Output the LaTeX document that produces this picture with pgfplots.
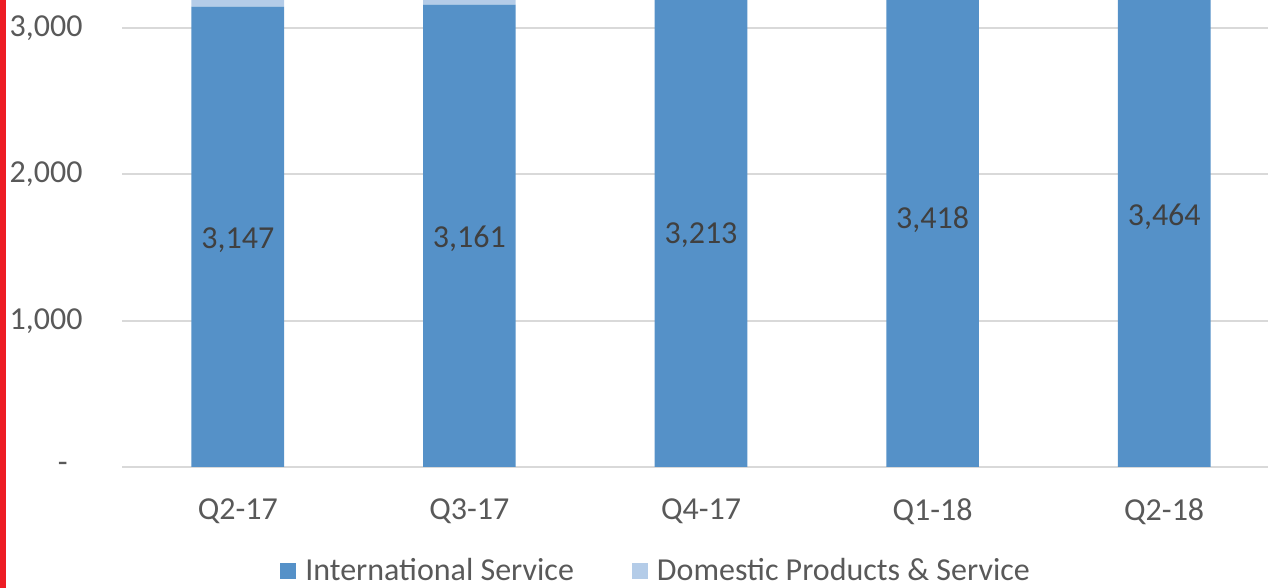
\documentclass[border=0pt]{standalone}
\usepackage{pgfplots}
\pgfplotsset{compat=1.18}
\usepackage{fontspec}
\setmainfont{Carlito}
\definecolor{intl}{HTML}{5591C8}
\definecolor{dom}{HTML}{B4CCE8}
\definecolor{txt}{HTML}{595959}
\definecolor{lab}{HTML}{404040}
\definecolor{grd}{HTML}{D9D9D9}
\definecolor{redl}{HTML}{ED1C24}
\newcommand{\fs}{\fontsize{16}{19}\selectfont}
\begin{document}
\begin{tikzpicture}
\useasboundingbox (0,0) rectangle (634pt,294pt);
\begin{scope}
\clip (0,0) rectangle (634pt,294pt);
\begin{axis}[
  at={(61pt,60.5pt)}, anchor=south west,
  scale only axis, width=579pt, height=233.5pt,
  ybar stacked, bar width=0.4,
  xmin=-0.5, xmax=4.5, ymin=0, ymax=3192,
  xtick={0,1,2,3,4}, xticklabels={Q2-17,Q3-17,Q4-17,Q1-18,Q2-18},
  ytick={0,1000,2000,3000},
  yticklabels={{-\rule{7.5pt}{0pt}},{1,000},{2,000},{3,000}},
  ymajorgrids, grid style={grd, line width=1pt},
  axis x line*=bottom, axis y line*=left,
  x axis line style={grd, line width=1pt, -},
  y axis line style={draw=none, -},
  major tick length=0pt,
  tick label style={font=\fs, text=txt, inner sep=0pt},
  xticklabel style={anchor=north, yshift=-15.5pt},
  yticklabel style={anchor=east, xshift=-19.5pt},
  legend style={at={(0.1364,-0.2227)}, anchor=west, draw=none, fill=none,
    inner sep=0pt, font=\fs, text=txt, column sep=4.5pt,
    nodes={inner sep=0pt}},
  legend columns=-1,
  legend image code/.code={\fill[#1] (0pt,-4pt) rectangle (8pt,4pt);},
]
\addplot[fill=intl, draw=none] coordinates {(0,3147) (1,3161) (2,3213) (3,3418) (4,3464)};
\addlegendentry{International Service\rule{24.5pt}{0pt}}
\addplot[fill=dom, draw=none] coordinates {(0,60) (1,55) (2,50) (3,45) (4,40)};
\addlegendentry{Domestic Products \& Service}
\coordinate (l0) at (axis cs:0,1573.5);
\coordinate (l1) at (axis cs:1,1580.5);
\coordinate (l2) at (axis cs:2,1606.5);
\coordinate (l3) at (axis cs:3,1709);
\coordinate (l4) at (axis cs:4,1732);
\end{axis}
\begin{scope}[every node/.style={font=\fs, text=lab, yshift=-1.5pt}]
\node at (l0) {3,147};
\node at (l1) {3,161};
\node at (l2) {3,213};
\node at (l3) {3,418};
\node at (l4) {3,464};
\end{scope}
\fill[redl] (0,0) rectangle (3pt,294pt);
\end{scope}
\end{tikzpicture}
\end{document}
